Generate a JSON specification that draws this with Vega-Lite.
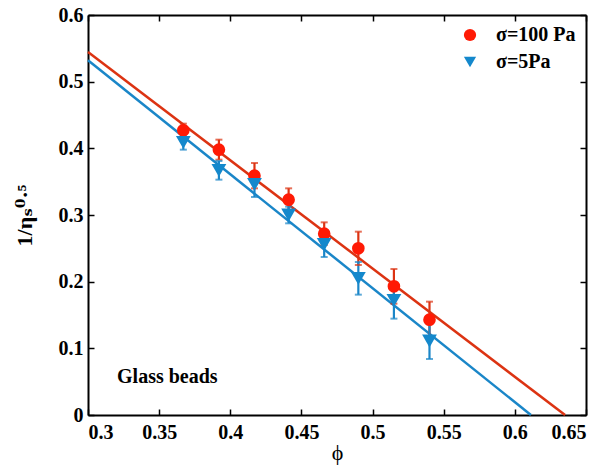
{
  "$schema": "https://vega.github.io/schema/vega-lite/v6.json",
  "width": 498,
  "height": 400,
  "autosize": {"type": "none"},
  "padding": {"left": 88, "top": 15, "right": 21, "bottom": 54},
  "background": "white",
  "config": {
    "view": {"stroke": null},
    "font": "Liberation Serif, Times New Roman, DejaVu Serif, serif",
    "axis": {
      "grid": false,
      "domainColor": "black",
      "domainWidth": 2,
      "tickColor": "black",
      "tickWidth": 1.5,
      "tickSize": -6,
      "labelPadding": 11,
      "labelFont": "Liberation Serif, Times New Roman, DejaVu Serif, serif",
      "labelFontWeight": "bold",
      "labelFontSize": 20,
      "labelColor": "black",
      "titleColor": "black",
      "titleFont": "Liberation Serif, Times New Roman, DejaVu Serif, serif"
    },
    "legend": {
      "orient": "none",
      "legendX": 372,
      "legendY": 10,
      "labelFont": "Liberation Serif, Times New Roman, DejaVu Serif, serif",
      "labelFontWeight": "bold",
      "labelFontSize": 20,
      "labelColor": "black",
      "symbolSize": 150,
      "rowPadding": 7,
      "labelOffset": 16
    }
  },
  "datasets": {
    "pts": [
      {"series": "σ=100 Pa", "phi": 0.367, "v": 0.427, "lo": 0.417, "hi": 0.437},
      {"series": "σ=100 Pa", "phi": 0.392, "v": 0.398, "lo": 0.383, "hi": 0.413},
      {"series": "σ=100 Pa", "phi": 0.417, "v": 0.359, "lo": 0.340, "hi": 0.378},
      {"series": "σ=100 Pa", "phi": 0.441, "v": 0.323, "lo": 0.306, "hi": 0.340},
      {"series": "σ=100 Pa", "phi": 0.466, "v": 0.272, "lo": 0.255, "hi": 0.289},
      {"series": "σ=100 Pa", "phi": 0.490, "v": 0.250, "lo": 0.225, "hi": 0.275},
      {"series": "σ=100 Pa", "phi": 0.515, "v": 0.193, "lo": 0.167, "hi": 0.219},
      {"series": "σ=100 Pa", "phi": 0.540, "v": 0.143, "lo": 0.116, "hi": 0.170},
      {"series": "σ=5Pa", "phi": 0.367, "v": 0.409, "lo": 0.398, "hi": 0.420},
      {"series": "σ=5Pa", "phi": 0.392, "v": 0.367, "lo": 0.353, "hi": 0.381},
      {"series": "σ=5Pa", "phi": 0.417, "v": 0.346, "lo": 0.327, "hi": 0.365},
      {"series": "σ=5Pa", "phi": 0.441, "v": 0.300, "lo": 0.2875, "hi": 0.3125},
      {"series": "σ=5Pa", "phi": 0.466, "v": 0.256, "lo": 0.237, "hi": 0.275},
      {"series": "σ=5Pa", "phi": 0.490, "v": 0.205, "lo": 0.1805, "hi": 0.2295},
      {"series": "σ=5Pa", "phi": 0.515, "v": 0.172, "lo": 0.1445, "hi": 0.1995},
      {"series": "σ=5Pa", "phi": 0.540, "v": 0.111, "lo": 0.084, "hi": 0.138}
    ],
    "fits": [
      {"series": "σ=100 Pa", "phi": 0.3, "v": 0.5445},
      {"series": "σ=100 Pa", "phi": 0.6353, "v": 0},
      {"series": "σ=5Pa", "phi": 0.3, "v": 0.532},
      {"series": "σ=5Pa", "phi": 0.6113, "v": 0}
    ],
    "note": [
      {"phi": 0.3204, "v": 0.0483, "label": "Glass beads"}
    ]
  },
  "layer": [
    {
      "data": {"name": "fits"},
      "mark": {"type": "line", "strokeWidth": 2.5},
      "encoding": {
        "x": {"field": "phi", "type": "quantitative",
              "scale": {"domain": [0.3, 0.65], "nice": false, "zero": false},
              "axis": {"orient": "bottom", "values": [0.3, 0.35, 0.4, 0.45, 0.5, 0.55, 0.6, 0.65], "format": "~g",
                       "labelPadding": 13,
                       "title": "ϕ", "titleFontSize": 22, "titleFontWeight": "normal", "titlePadding": 0}},
        "y": {"field": "v", "type": "quantitative",
              "scale": {"domain": [0, 0.6], "nice": false, "zero": false},
              "axis": {"orient": "left", "values": [0, 0.1, 0.2, 0.3, 0.4, 0.5, 0.6], "format": "~g",
                       "labelPadding": 11,
                       "title": "1/ηₛ⁰·⁵", "titleFontSize": 22, "titleFontWeight": "bold", "titlePadding": 22}},
        "color": {"field": "series", "type": "nominal",
                  "scale": {"range": ["#dc3312", "#1a86c8"]},
                  "legend": null}
      }
    },
    {
      "data": {"name": "pts"},
      "mark": {"type": "rule", "strokeWidth": 2.2},
      "encoding": {
        "x": {"field": "phi", "type": "quantitative", "scale": {"domain": [0.3, 0.65], "nice": false, "zero": false}, "axis": null},
        "y": {"field": "lo", "type": "quantitative", "scale": {"domain": [0, 0.6], "nice": false, "zero": false}, "axis": null},
        "y2": {"field": "hi"},
        "color": {"field": "series", "type": "nominal", "legend": null}
      }
    },
    {
      "data": {"name": "pts"},
      "mark": {"type": "tick", "orient": "horizontal", "size": 7, "thickness": 2},
      "encoding": {
        "x": {"field": "phi", "type": "quantitative", "scale": {"domain": [0.3, 0.65], "nice": false, "zero": false}, "axis": null},
        "y": {"field": "lo", "type": "quantitative", "scale": {"domain": [0, 0.6], "nice": false, "zero": false}, "axis": null},
        "color": {"field": "series", "type": "nominal", "legend": null}
      }
    },
    {
      "data": {"name": "pts"},
      "mark": {"type": "tick", "orient": "horizontal", "size": 7, "thickness": 2},
      "encoding": {
        "x": {"field": "phi", "type": "quantitative", "scale": {"domain": [0.3, 0.65], "nice": false, "zero": false}, "axis": null},
        "y": {"field": "hi", "type": "quantitative", "scale": {"domain": [0, 0.6], "nice": false, "zero": false}, "axis": null},
        "color": {"field": "series", "type": "nominal", "legend": null}
      }
    },
    {
      "data": {"name": "pts"},
      "mark": {"type": "point", "filled": true, "opacity": 1},
      "encoding": {
        "x": {"field": "phi", "type": "quantitative", "scale": {"domain": [0.3, 0.65], "nice": false, "zero": false}, "axis": null},
        "y": {"field": "v", "type": "quantitative", "scale": {"domain": [0, 0.6], "nice": false, "zero": false}, "axis": null},
        "fill": {"field": "series", "type": "nominal",
                 "scale": {"domain": ["σ=100 Pa", "σ=5Pa"], "range": ["#ff1a05", "#1488cc"]},
                 "legend": {"title": null}},
        "shape": {"field": "series", "type": "nominal",
                  "scale": {"domain": ["σ=100 Pa", "σ=5Pa"], "range": ["circle", "triangle-down"]},
                  "legend": {"title": null}},
        "size": {"field": "series", "type": "nominal",
                 "scale": {"range": [160, 220]},
                 "legend": null}
      }
    },
    {
      "data": {"name": "note"},
      "mark": {"type": "text", "align": "left", "baseline": "alphabetic", "font": "Liberation Serif, Times New Roman, DejaVu Serif, serif", "fontWeight": "bold", "fontSize": 20, "color": "black"},
      "encoding": {
        "x": {"field": "phi", "type": "quantitative",
              "scale": {"domain": [0.3, 0.65], "nice": false, "zero": false},
              "axis": {"orient": "top", "values": [0.3, 0.35, 0.4, 0.45, 0.5, 0.55, 0.6, 0.65], "labels": false, "title": null}},
        "y": {"field": "v", "type": "quantitative",
              "scale": {"domain": [0, 0.6], "nice": false, "zero": false},
              "axis": {"orient": "right", "values": [0, 0.1, 0.2, 0.3, 0.4, 0.5, 0.6], "labels": false, "title": null}},
        "text": {"field": "label"}
      }
    }
  ],
  "resolve": {"axis": {"x": "independent", "y": "independent"}}
}
